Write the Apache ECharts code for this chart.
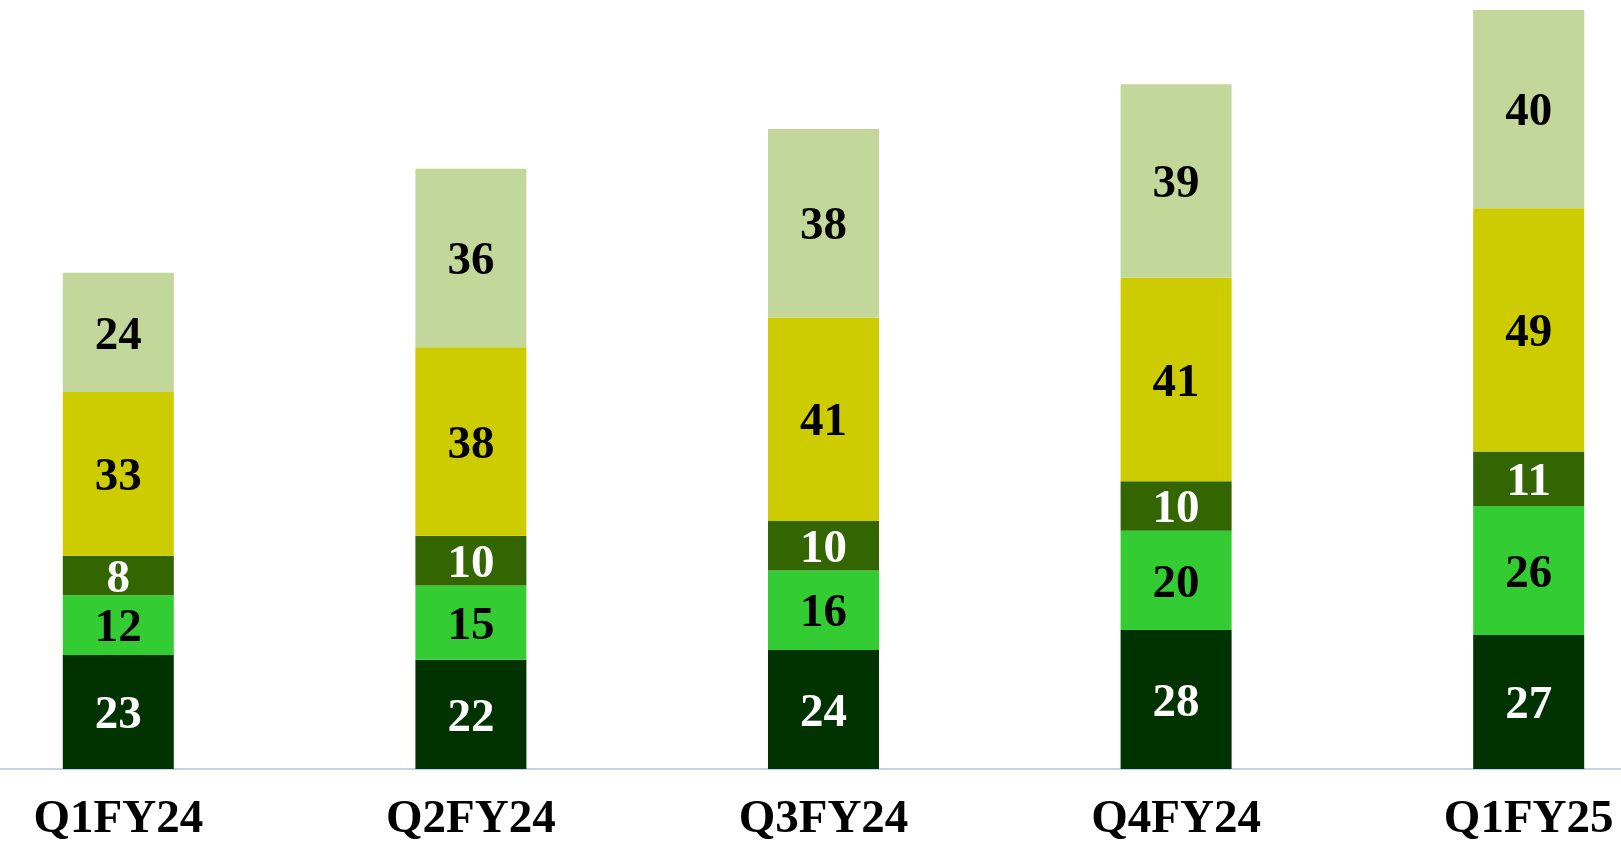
<!DOCTYPE html>
<html>
<head>
<meta charset="utf-8">
<script src="https://cdn.jsdelivr.net/npm/echarts@6/dist/echarts.min.js"></script>
<style>
html,body{margin:0;padding:0;background:#fff;overflow:hidden;width:1621px;height:846px;}
#chart{position:absolute;left:-58px;top:0;width:1763px;height:846px;}
</style>
</head>
<body>
<div id="chart"></div>
<script>
const categories = ['Q1FY24', 'Q2FY24', 'Q3FY24', 'Q4FY24', 'Q1FY25'];
const seriesA = [23, 22, 24, 28, 27];
const seriesB = [12, 15, 16, 20, 26];
const seriesC = [8, 10, 10, 10, 11];
const seriesD = [33, 38, 41, 41, 49];
const seriesE = [24, 36, 38, 39, 40];

const FONT = '"Liberation Serif", "DejaVu Serif", serif';
function mk(name, data, color, labelColor) {
  return {
    name: name,
    type: 'bar',
    stack: 'total',
    data: data,
    barWidth: 111,
    itemStyle: { color: color },
    label: {
      show: true,
      position: 'inside',
      offset: [0, 4],
      color: labelColor,
      fontFamily: FONT,
      fontWeight: 'bold',
      fontSize: 47
    }
  };
}

const chart = echarts.init(document.getElementById('chart'));
chart.setOption({
  animation: false,
  backgroundColor: '#ffffff',
  grid: { left: 0, right: 0, top: 0, bottom: 77, containLabel: false },
  xAxis: {
    type: 'category',
    data: categories,
    axisLine: { show: true, lineStyle: { color: '#c2d2ee', width: 2 } },
    axisTick: { show: false },
    axisLabel: {
      color: '#000',
      fontFamily: FONT,
      fontWeight: 'bold',
      fontSize: 47,
      margin: 27
    }
  },
  yAxis: {
    type: 'value',
    min: 0,
    max: 155,
    show: false,
    splitLine: { show: false }
  },
  series: [
    mk('A', seriesA, '#003300', '#ffffff'),
    mk('B', seriesB, '#33cc33', '#000000'),
    mk('C', seriesC, '#336600', '#ffffff'),
    mk('D', seriesD, '#cccc00', '#000000'),
    mk('E', seriesE, '#c4d79b', '#000000')
  ]
});
</script>
</body>
</html>
